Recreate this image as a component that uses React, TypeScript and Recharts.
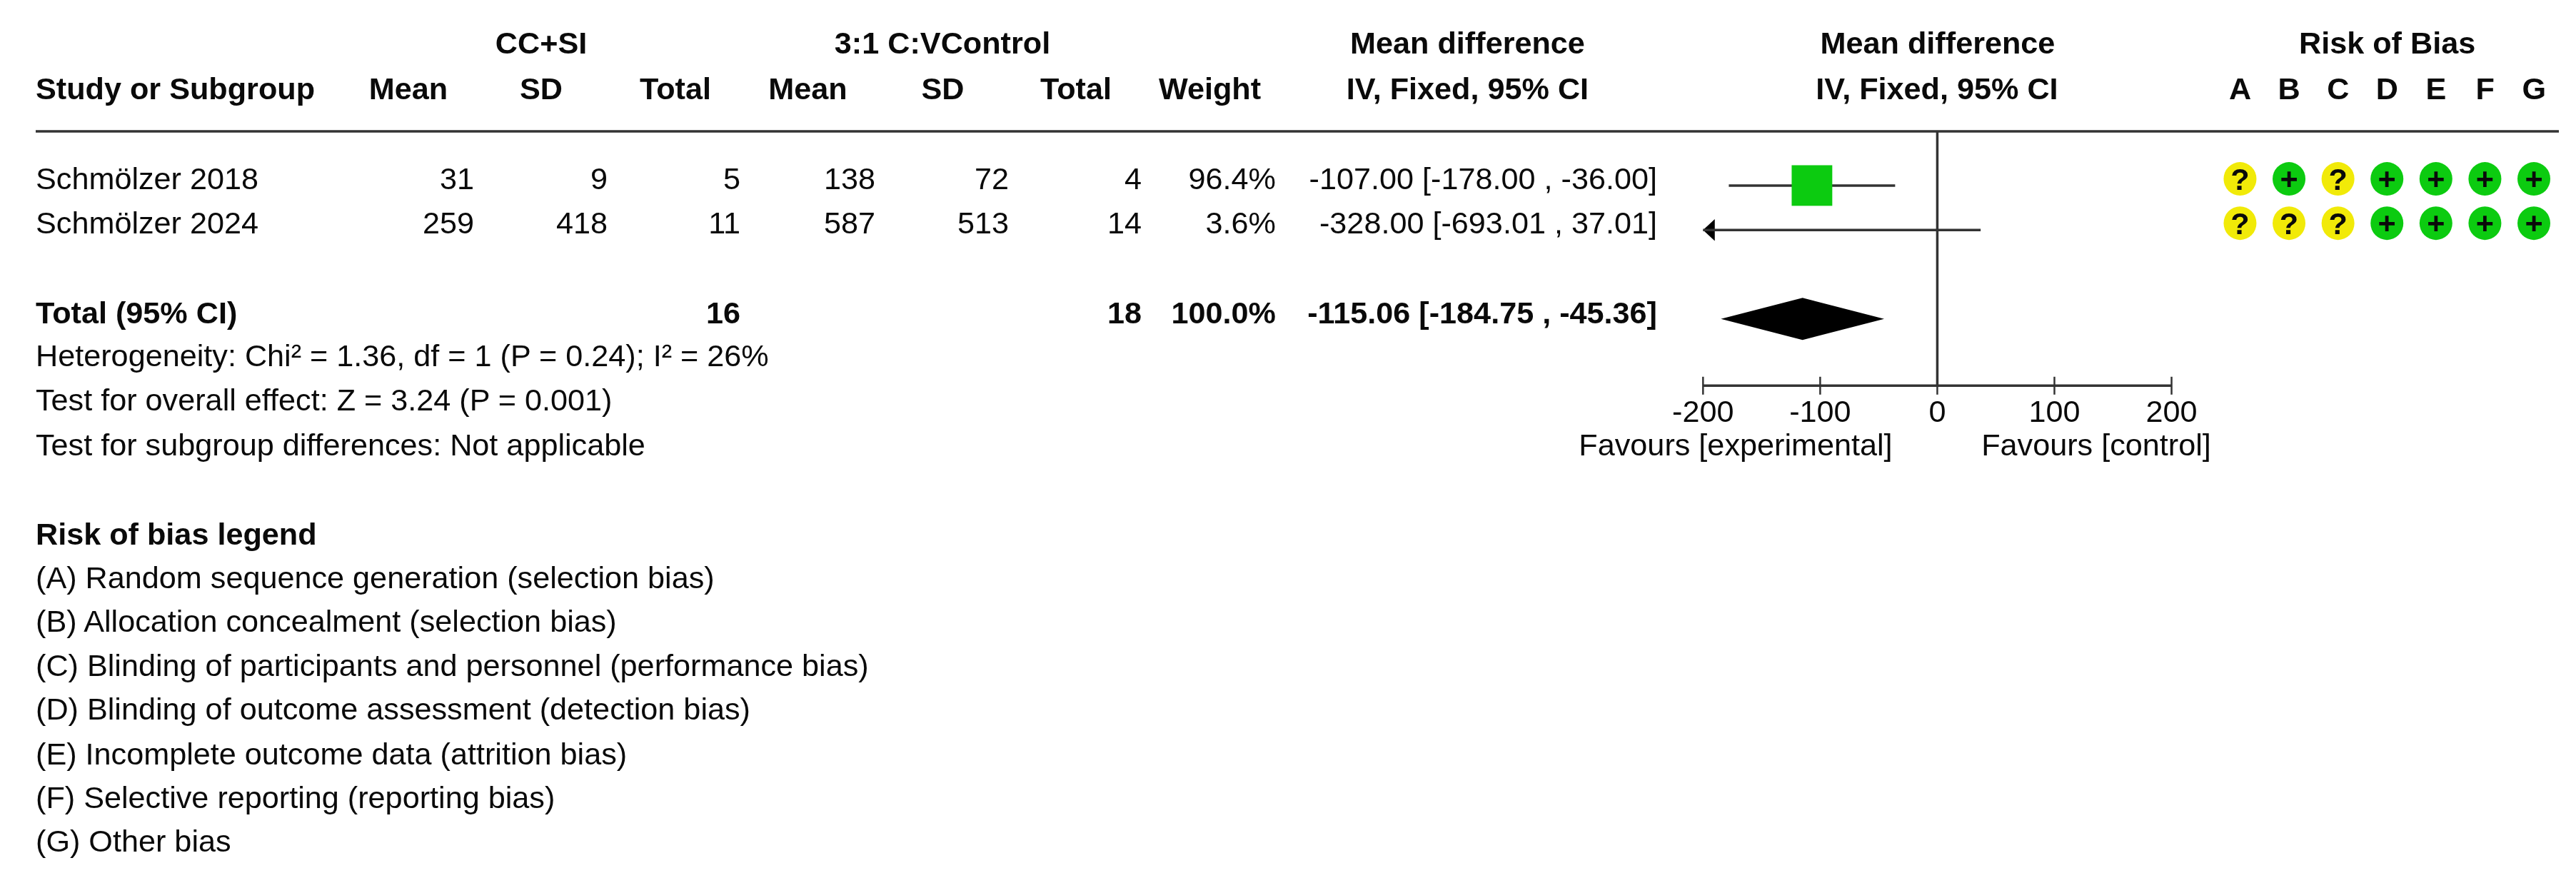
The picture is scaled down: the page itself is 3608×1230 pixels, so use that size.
import {
  ComposedChart,
  ReferenceArea,
  ReferenceLine,
  Scatter,
  XAxis,
  YAxis,
} from "recharts";

const studies = ["Schmölzer 2018", "Schmölzer 2024"];
const meanExp = ["31", "259"];
const sdExp = ["9", "418"];
const totalExp = ["5", "11"];
const meanCtrl = ["138", "587"];
const sdCtrl = ["72", "513"];
const totalCtrl = ["4", "14"];
const weightLabels = ["96.4%", "3.6%"];
const ciLabels = ["-107.00 [-178.00 , -36.00]", "-328.00 [-693.01 , 37.01]"];

const md = [-107, -328];
const ciLow = [-178, -693.01];
const ciHigh = [-36, 37.01];
const weights = [96.4, 3.6];

const pooledMd = -115.06;
const pooledLow = -184.75;
const pooledHigh = -45.36;
const totalCells = ["Total (95% CI)", "16", "18", "100.0%", "-115.06 [-184.75 , -45.36]"];

const axisTicks = [-200, -100, 0, 100, 200];
const robColumns = ["A", "B", "C", "D", "E", "F", "G"];
const rob2018 = ["?", "+", "?", "+", "+", "+", "+"];
const rob2024 = ["?", "?", "?", "+", "+", "+", "+"];

const footnotes = [
  "Heterogeneity: Chi² = 1.36, df = 1 (P = 0.24); I² = 26%",
  "Test for overall effect: Z = 3.24 (P = 0.001)",
  "Test for subgroup differences: Not applicable",
];
const legendTitle = "Risk of bias legend";
const legendItems = [
  "(A) Random sequence generation (selection bias)",
  "(B) Allocation concealment (selection bias)",
  "(C) Blinding of participants and personnel (performance bias)",
  "(D) Blinding of outcome assessment (detection bias)",
  "(E) Incomplete outcome data (attrition bias)",
  "(F) Selective reporting (reporting bias)",
  "(G) Other bias",
];

const FONT = "'Liberation Sans', Arial, sans-serif";
const INK = "#0a0a0a";
const LINE = "#333";
const GREEN = "#0ccb10";
const YELLOW = "#f1ea08";

// the plot area is the whole upper part of the page, so table and forest share it
const WIDTH = 3608;
const HEIGHT = 1230;
const AXIS_Y = 540.3;
const X_DOMAIN = [-1654, 545.3];
const Y_DOMAIN = [-4.173, 4.502];
const ROB_X_DOMAIN = [-45.74, 6.86];
const ROB_Y_DOMAIN = [-4.04, 4.67];
const RULE_ROW = -1.22;
const AXIS_ROW = 4.502;
const TOTAL_ROW = 3;

const forestRows = md.map((value, i) => ({ x: value, y: i, weight: weights[i] }));
const visibleSquares = forestRows.filter((d) => d.x >= axisTicks[0]);
const robPoints = [rob2018, rob2024].flatMap((row, y) =>
  row.map((mark, x) => ({ x, y, mark })),
);

function T({ x, y, bold, anchor = "start", children }: any) {
  return (
    <text x={x} y={y} fontFamily={FONT} fontSize={43.2} fontWeight={bold ? 700 : 400} fill={INK} textAnchor={anchor}>
      {children}
    </text>
  );
}

function AxisTick({ x, y, payload }: any) {
  return (
    <g>
      <line x1={x} x2={x} y1={y - 12.5} y2={y + 12.5} stroke={LINE} strokeWidth={2.5} />
      <T x={x} y={y + 50.7} anchor="middle">{payload.value}</T>
    </g>
  );
}

function WeightSquare({ cx, cy, payload }: any) {
  const size = payload.weight * 0.59;
  return <rect x={cx - size / 2} y={cy - size / 2} width={size} height={size} fill={GREEN} />;
}

function RobDot({ cx, cy, payload }: any) {
  const isPlus = payload.mark === "+";
  return (
    <g>
      <ellipse cx={cx} cy={cy} rx={23} ry={23.5} fill={isPlus ? GREEN : YELLOW} />
      <T x={cx} y={cy + (isPlus ? 14.5 : 15.5)} bold anchor="middle">{payload.mark}</T>
    </g>
  );
}

function Diamond({ x, y, width, height }: any) {
  const midX = x + width * ((pooledMd - pooledLow) / (pooledHigh - pooledLow));
  const midY = y + height / 2;
  return (
    <polygon
      points={`${x},${midY} ${midX},${y} ${x + width},${midY} ${midX},${y + height}`}
      fill="#000"
    />
  );
}

function LeftArrow({ x, y, width, height }: any) {
  return (
    <polygon
      points={`${x},${y + height / 2} ${x + width},${y} ${x + width},${y + height}`}
      fill="#000"
    />
  );
}

function TableText() {
  const headerBase = 139;
  const rowBase = [265, 327];
  const totalBase = 452.5;
  const cols = [
    { x: 664, head: "Mean", headX: 572, cells: meanExp },
    { x: 851, head: "SD", headX: 758, cells: sdExp },
    { x: 1037, head: "Total", headX: 946, cells: totalExp },
    { x: 1226, head: "Mean", headX: 1131.5, cells: meanCtrl },
    { x: 1413, head: "SD", headX: 1320.5, cells: sdCtrl },
    { x: 1599, head: "Total", headX: 1507, cells: totalCtrl },
    { x: 1787, head: "Weight", headX: 1694.5, cells: weightLabels },
    { x: 2321, head: "IV, Fixed, 95% CI", headX: 2055.5, cells: ciLabels },
  ];
  const footBase = [513, 575, 638];
  const legendBase = [824, 885, 947, 1008, 1071, 1132, 1193];
  return (
    <g>
      <T x={758} y={75} bold anchor="middle">CC+SI</T>
      <T x={1320} y={75} bold anchor="middle">3:1 C:VControl</T>
      <T x={2055.5} y={75} bold anchor="middle">Mean difference</T>
      <T x={2714} y={75} bold anchor="middle">Mean difference</T>
      <T x={3343.6} y={75} bold anchor="middle">Risk of Bias</T>

      <T x={50} y={headerBase} bold>Study or Subgroup</T>
      {cols.map((c) => (
        <T key={c.x} x={c.headX} y={headerBase} bold anchor="middle">{c.head}</T>
      ))}
      <T x={2713} y={headerBase} bold anchor="middle">IV, Fixed, 95% CI</T>
      {robColumns.map((letter, i) => (
        <T key={letter} x={3137.6 + 68.6 * i} y={headerBase} bold anchor="middle">{letter}</T>
      ))}

      <line x1={50} x2={3584} y1={184} y2={184} stroke={LINE} strokeWidth={3.5} />

      {studies.map((name, i) => (
        <T key={name} x={50} y={rowBase[i]}>{name}</T>
      ))}
      {cols.map((c) =>
        c.cells.map((cell, i) => (
          <T key={`${c.x}-${i}`} x={c.x} y={rowBase[i]} anchor="end">{cell}</T>
        )),
      )}

      <T x={50} y={totalBase} bold>{totalCells[0]}</T>
      <T x={1037} y={totalBase} bold anchor="end">{totalCells[1]}</T>
      <T x={1599} y={totalBase} bold anchor="end">{totalCells[2]}</T>
      <T x={1787} y={totalBase} bold anchor="end">{totalCells[3]}</T>
      <T x={2321} y={totalBase} bold anchor="end">{totalCells[4]}</T>

      {footnotes.map((line, i) => (
        <T key={line} x={50} y={footBase[i]}>{line}</T>
      ))}
      <T x={2431} y={638} anchor="middle">Favours [experimental]</T>
      <T x={2936} y={638} anchor="middle">Favours [control]</T>

      <T x={50} y={763} bold>{legendTitle}</T>
      {legendItems.map((line, i) => (
        <T key={line} x={50} y={legendBase[i]}>{line}</T>
      ))}
    </g>
  );
}

export default function App() {
  const axisMin = axisTicks[0];
  const axisMax = axisTicks[axisTicks.length - 1];
  return (
    <div style={{ position: "absolute", left: 0, top: 0, width: WIDTH, height: HEIGHT, background: "#fff", filter: "blur(0.6px)" }}>
      <ComposedChart width={WIDTH} height={HEIGHT} margin={{ top: 0, right: 0, bottom: 0, left: 0 }}>
        <XAxis
          xAxisId="forest"
          type="number"
          dataKey="x"
          domain={X_DOMAIN}
          ticks={axisTicks}
          interval={0}
          allowDataOverflow
          height={HEIGHT - AXIS_Y}
          axisLine={false}
          tickLine={false}
          tickSize={0}
          tickMargin={0}
          tick={<AxisTick />}
        />
        <YAxis yAxisId="forest" type="number" dataKey="y" domain={Y_DOMAIN} reversed allowDataOverflow hide />
        <XAxis xAxisId="rob" type="number" dataKey="x" domain={ROB_X_DOMAIN} allowDataOverflow hide />
        <YAxis yAxisId="rob" type="number" dataKey="y" domain={ROB_Y_DOMAIN} reversed allowDataOverflow hide />

        <TableText />

        <ReferenceLine
          xAxisId="forest"
          yAxisId="forest"
          segment={[{ x: axisMin, y: AXIS_ROW }, { x: axisMax, y: AXIS_ROW }]}
          stroke={LINE}
          strokeWidth={3.5}
        />
        <ReferenceLine
          xAxisId="forest"
          yAxisId="forest"
          segment={[{ x: 0, y: RULE_ROW }, { x: 0, y: AXIS_ROW }]}
          stroke={LINE}
          strokeWidth={3.5}
        />
        {forestRows.map((row, i) => (
          <ReferenceLine
            key={row.y}
            xAxisId="forest"
            yAxisId="forest"
            segment={[
              { x: Math.max(ciLow[i], axisMin), y: row.y },
              { x: Math.min(ciHigh[i], axisMax), y: row.y },
            ]}
            stroke={LINE}
            strokeWidth={3.5}
          />
        ))}
        {forestRows
          .filter((row) => ciLow[row.y] < axisMin)
          .map((row) => (
            <ReferenceArea
              key={row.y}
              xAxisId="forest"
              yAxisId="forest"
              x1={axisMin}
              x2={axisMin + 10}
              y1={row.y - 0.245}
              y2={row.y + 0.245}
              shape={<LeftArrow />}
            />
          ))}
        <ReferenceArea
          xAxisId="forest"
          yAxisId="forest"
          x1={pooledLow}
          x2={pooledHigh}
          y1={TOTAL_ROW - 0.473}
          y2={TOTAL_ROW + 0.473}
          shape={<Diamond />}
        />
        <Scatter
          xAxisId="forest"
          yAxisId="forest"
          data={visibleSquares}
          shape={<WeightSquare />}
          isAnimationActive={false}
        />
        <Scatter
          xAxisId="rob"
          yAxisId="rob"
          data={robPoints}
          shape={<RobDot />}
          isAnimationActive={false}
        />
      </ComposedChart>
    </div>
  );
}
